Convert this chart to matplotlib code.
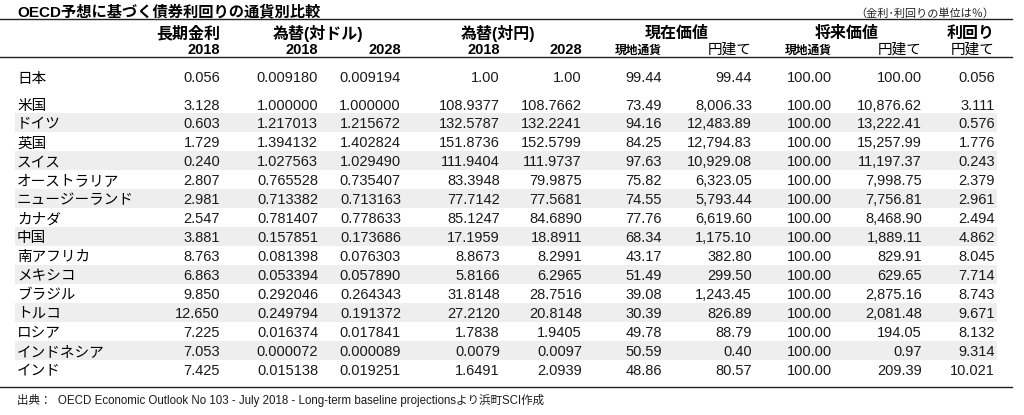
import numpy as np
import matplotlib
matplotlib.use('Agg')
import matplotlib.pyplot as plt

plt.rcParams['font.family'] = ['Liberation Sans', 'Noto Sans CJK JP']

countries = ['日本', '米国', 'ドイツ', '英国', 'スイス', 'オーストラリア', 'ニュージーランド',
             'カナダ', '中国', '南アフリカ', 'メキシコ', 'ブラジル', 'トルコ', 'ロシア',
             'インドネシア', 'インド']
rate2018 = [0.056, 3.128, 0.603, 1.729, 0.240, 2.807, 2.981, 2.547, 3.881, 8.763,
            6.863, 9.850, 12.650, 7.225, 7.053, 7.425]
usd2018 = [0.009180, 1.000000, 1.217013, 1.394132, 1.027563, 0.765528, 0.713382, 0.781407,
           0.157851, 0.081398, 0.053394, 0.292046, 0.249794, 0.016374, 0.000072, 0.015138]
usd2028 = [0.009194, 1.000000, 1.215672, 1.402824, 1.029490, 0.735407, 0.713163, 0.778633,
           0.173686, 0.076303, 0.057890, 0.264343, 0.191372, 0.017841, 0.000089, 0.019251]
jpy2018 = [1.00, 108.9377, 132.5787, 151.8736, 111.9404, 83.3948, 77.7142, 85.1247,
           17.1959, 8.8673, 5.8166, 31.8148, 27.2120, 1.7838, 0.0079, 1.6491]
jpy2028 = [1.00, 108.7662, 132.2241, 152.5799, 111.9737, 79.9875, 77.5681, 84.6890,
           18.8911, 8.2991, 6.2965, 28.7516, 20.8148, 1.9405, 0.0097, 2.0939]
pv_local = [99.44, 73.49, 94.16, 84.25, 97.63, 75.82, 74.55, 77.76, 68.34, 43.17,
            51.49, 39.08, 30.39, 49.78, 50.59, 48.86]
pv_yen = [99.44, 8006.33, 12483.89, 12794.83, 10929.08, 6323.05, 5793.44, 6619.60,
          1175.10, 382.80, 299.50, 1243.45, 826.89, 88.79, 0.40, 80.57]
fv_local = [100.00, 100.00, 100.00, 100.00, 100.00, 100.00, 100.00, 100.00,
            100.00, 100.00, 100.00, 100.00, 100.00, 100.00, 100.00, 100.00]
fv_yen = [100.00, 10876.62, 13222.41, 15257.99, 11197.37, 7998.75, 7756.81, 8468.90,
          1889.11, 829.91, 629.65, 2875.16, 2081.48, 194.05, 0.97, 209.39]
yield_yen = [0.056, 3.111, 0.576, 1.776, 0.243, 2.379, 2.961, 2.494, 4.862, 8.045,
             7.714, 8.743, 9.671, 8.132, 9.314, 10.021]

title = 'OECD予想に基づく債券利回りの通貨別比較'
unit_note = '（金利･利回りの単位は％）'
source = '出典：  OECD Economic Outlook No 103 - July 2018 - Long-term baseline projectionsより浜町SCI作成'

# columns: data, format, right edge (px)
cols = [
    (rate2018, '{:.3f}', 220),
    (usd2018, '{:.6f}', 318),
    (usd2028, '{:.6f}', 401),
    (jpy2018, '{:.4f}', 500),
    (jpy2028, '{:.4f}', 582),
    (pv_local, '{:,.2f}', 662),
    (pv_yen, '{:,.2f}', 752),
    (fv_local, '{:,.2f}', 832),
    (fv_yen, '{:,.2f}', 922),
    (yield_yen, '{:.3f}', 995),
]

fig = plt.figure(figsize=(10.24, 4.15), dpi=100)
ax = fig.add_axes([0, 0, 1, 1])
ax.set_xlim(0, 1024)
ax.set_ylim(415, 0)
ax.axis('off')

# row positions
row_y = [77] + list(104 + 18.95 * np.arange(len(countries) - 1))

# shaded rows
for i in range(2, len(countries), 2):
    ax.axhspan(row_y[i] - 9.5, row_y[i] + 9.5, xmin=15 / 1024, xmax=997 / 1024,
               color='#eeeeee', lw=0, zorder=0)

# rules
ax.plot([0, 1012], [19.5, 19.5], color='#222222', lw=1)
ax.plot([0, 1012], [57.5, 57.5], color='#222222', lw=1)
ax.plot([0, 1012], [387, 387], color='#222222', lw=1)

ax.text(17, 10, title, fontsize=11, fontweight='bold', va='center_baseline', ha='left')
ax.text(994, 13, unit_note, fontsize=8, va='center_baseline', ha='right', color='#222222')

# header row 1
hy1, hy2 = 32, 48
ax.text(220, hy1, '長期金利', fontsize=11.5, fontweight='bold', ha='right', va='center_baseline')
ax.text(318.5, hy1, '為替(対ドル)', fontsize=11.5, fontweight='bold', ha='center', va='center_baseline')
ax.text(498.5, hy1, '為替(対円)', fontsize=11.5, fontweight='bold', ha='center', va='center_baseline')
ax.text(677, hy1, '現在価値', fontsize=11.5, fontweight='bold', ha='center', va='center_baseline')
ax.text(847, hy1, '将来価値', fontsize=11.5, fontweight='bold', ha='center', va='center_baseline')
ax.text(995, hy1, '利回り', fontsize=11.5, fontweight='bold', ha='right', va='center_baseline')

# header row 2
sub = ['2018', '2018', '2028', '2018', '2028', '現地通貨', '円建て', '現地通貨', '円建て', '円建て']
for (vals, fmt, xr), s in zip(cols, sub):
    if s == '現地通貨':
        ax.text(xr, hy2 + 1, s, fontsize=8.5, fontweight='bold', ha='right', va='center_baseline')
    elif s == '円建て':
        ax.text(xr, hy2, s, fontsize=10.5, ha='right', va='center_baseline')
    else:
        ax.text(xr, hy2, s, fontsize=10.5, fontweight='bold', ha='right', va='center_baseline')

# body
for i, name in enumerate(countries):
    y = row_y[i]
    ax.text(17, y, name, fontsize=10.5, ha='left', va='center_baseline')
    for vals, fmt, xr in cols:
        f = fmt
        if i == 0 and fmt == '{:.4f}':
            f = '{:.2f}'
        ax.text(xr, y, f.format(vals[i]), fontsize=10.5, ha='right', va='center_baseline',
                color='#1a1a1a')

ax.text(17, 399, source, fontsize=8.3, ha='left', va='center_baseline', color='#1a1a1a')

fig.savefig('out.png', dpi=100)
